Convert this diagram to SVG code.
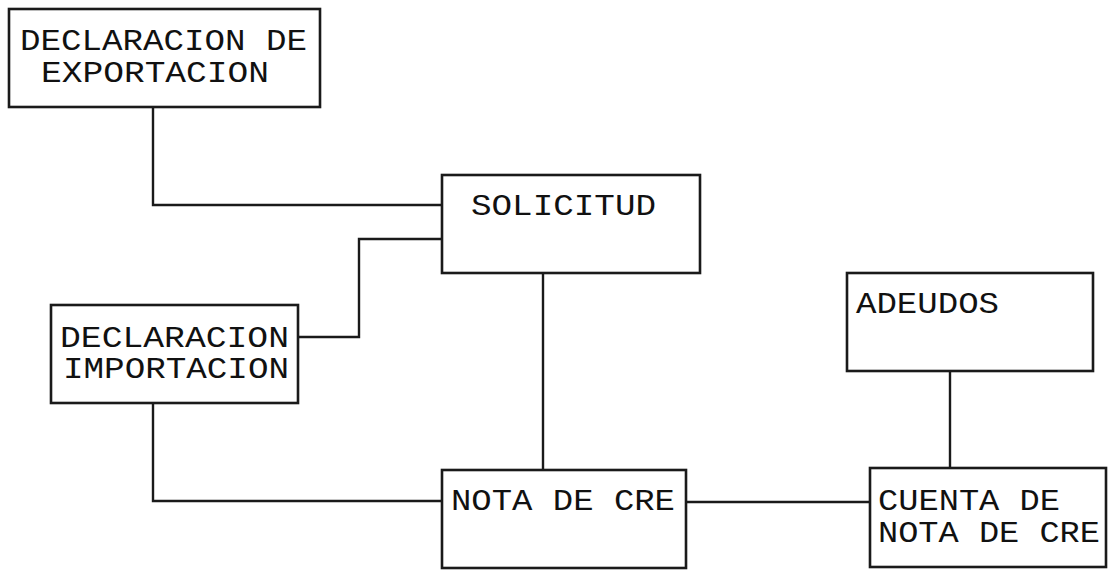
<svg xmlns="http://www.w3.org/2000/svg" width="1111" height="570" viewBox="0 0 1111 570">
<style>
.box{fill:#fff;stroke:#1a1a1a;stroke-width:2.6}
.c{fill:none;stroke:#1a1a1a;stroke-width:2.4}
text{font-family:"Liberation Mono","Courier New",monospace;font-size:30px;fill:#111}
</style>
<rect width="1111" height="570" fill="#fff"/>
<g id="connectors">
<path class="c" d="M153,107 V205 H442"/>
<path class="c" d="M298,337 H359 V239 H442"/>
<path class="c" d="M543,273 V470"/>
<path class="c" d="M153,403 V501 H442"/>
<path class="c" d="M686,502 H870"/>
<path class="c" d="M950,371 V468"/>
</g>
<g id="exportacion">
<rect class="box" x="9" y="9" width="311" height="98"/>
<text x="20" y="50" textLength="287" lengthAdjust="spacingAndGlyphs">DECLARACION DE</text>
<text x="41" y="82" textLength="228" lengthAdjust="spacingAndGlyphs">EXPORTACION</text>
</g>
<g id="solicitud">
<rect class="box" x="442" y="175" width="258" height="98"/>
<text x="471" y="215" textLength="185" lengthAdjust="spacingAndGlyphs">SOLICITUD</text>
</g>
<g id="importacion">
<rect class="box" x="51" y="305" width="247" height="98"/>
<text x="60" y="347" textLength="229" lengthAdjust="spacingAndGlyphs">DECLARACION</text>
<text x="63" y="378" textLength="226" lengthAdjust="spacingAndGlyphs">IMPORTACION</text>
</g>
<g id="adeudos">
<rect class="box" x="847" y="273" width="246" height="98"/>
<text x="856" y="313" textLength="143" lengthAdjust="spacingAndGlyphs">ADEUDOS</text>
</g>
<g id="nota">
<rect class="box" x="442" y="470" width="244" height="98"/>
<text x="451" y="510" textLength="224" lengthAdjust="spacingAndGlyphs">NOTA DE CRE</text>
</g>
<g id="cuenta">
<rect class="box" x="870" y="468" width="236" height="99"/>
<text x="878" y="510" textLength="182" lengthAdjust="spacingAndGlyphs">CUENTA DE</text>
<text x="878" y="542" textLength="222" lengthAdjust="spacingAndGlyphs">NOTA DE CRE</text>
</g>
</svg>
